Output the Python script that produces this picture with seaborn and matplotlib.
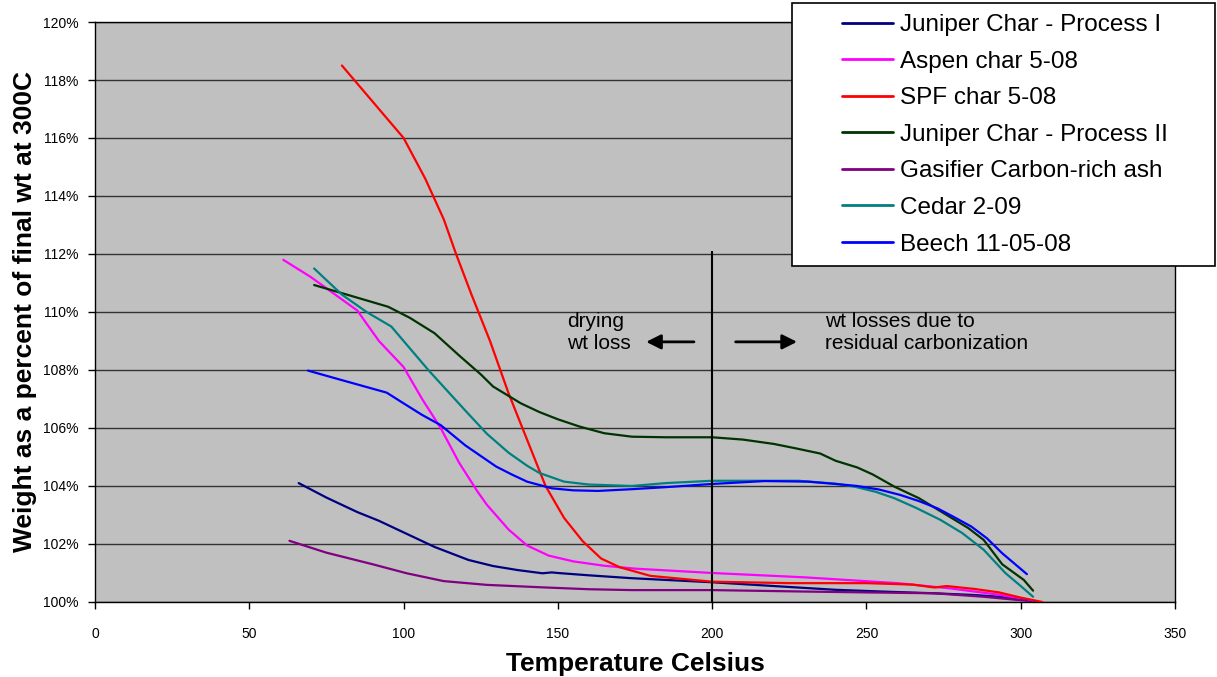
import matplotlib
matplotlib.use('Agg')
import matplotlib.pyplot as plt
import matplotlib.ticker as mticker
from matplotlib.patches import Rectangle
import pandas as pd
import seaborn as sns

# series values (temperature C, weight %)
juniper1_x = [66, 75, 85, 92, 100, 110, 121, 129, 137, 145, 148, 150, 160, 174, 200, 220, 240, 255, 272, 285, 293, 300, 305]
juniper1_y = [104.1, 103.6, 103.1, 102.8, 102.4, 101.9, 101.45, 101.24, 101.1, 100.99, 101.02, 101.0, 100.92, 100.82,
              100.68, 100.55, 100.42, 100.36, 100.3, 100.24, 100.18, 100.1, 100.0]

aspen_x = [61, 70, 85, 92, 100, 106, 112, 118, 124, 127, 134, 140, 147, 155, 165, 175, 200, 230, 260, 277, 293, 304]
aspen_y = [111.8, 111.2, 110.05, 109.0, 108.1, 107.0, 106.0, 104.8, 103.8, 103.35, 102.5, 101.95, 101.6, 101.4,
           101.25, 101.15, 101.0, 100.85, 100.65, 100.47, 100.25, 100.05]

spf_x = [80, 90, 100, 107, 113, 117, 122, 128, 134, 140, 146, 152, 158, 164, 170, 180, 190, 200, 225, 250, 265,
         272, 276, 285, 293, 300, 307]
spf_y = [118.5, 117.25, 116.0, 114.6, 113.2, 112.0, 110.6, 109.0, 107.2, 105.6, 104.0, 102.9, 102.1, 101.5, 101.2,
         100.9, 100.8, 100.7, 100.65, 100.65, 100.6, 100.5, 100.55, 100.45, 100.33, 100.15, 100.0]

juniper2_x = [71, 80, 88, 95, 102, 110, 118, 125, 129, 138, 144, 150, 157, 165, 174, 185, 200, 210, 220, 227, 235,
              240, 247, 252, 259, 267, 276, 283, 288, 294, 301, 304]
juniper2_y = [110.93, 110.65, 110.4, 110.18, 109.8, 109.27, 108.5, 107.85, 107.43, 106.85, 106.55, 106.3, 106.05,
              105.82, 105.7, 105.68, 105.68, 105.6, 105.45, 105.3, 105.12, 104.87, 104.64, 104.4, 103.98, 103.58,
              103.0, 102.55, 102.14, 101.3, 100.76, 100.39]

gasifier_x = [63, 75, 90, 101, 113, 127, 146, 160, 174, 200, 230, 250, 272, 288, 302]
gasifier_y = [102.11, 101.7, 101.3, 100.99, 100.72, 100.59, 100.5, 100.44, 100.41, 100.41, 100.36, 100.33, 100.3,
              100.18, 100.04]

cedar_x = [71, 80, 88, 96, 100, 108, 114, 120, 127, 134, 140, 144, 152, 160, 174, 185, 200, 228, 240, 246, 253,
           259, 266, 274, 281, 288, 295, 300, 304]
cedar_y = [111.5, 110.6, 110.0, 109.5, 109.0, 108.0, 107.3, 106.6, 105.8, 105.15, 104.7, 104.45, 104.15, 104.05,
           104.0, 104.1, 104.18, 104.18, 104.08, 103.98, 103.8, 103.58, 103.25, 102.83, 102.38, 101.8, 101.0,
           100.55, 100.18]

beech_x = [69, 80, 94.5, 100, 106, 112, 120, 130, 135, 140, 148, 155, 163, 174, 185, 200, 217, 231, 240, 247, 254,
           261, 267, 273, 278, 284, 289, 294, 302]
beech_y = [107.98, 107.65, 107.22, 106.85, 106.45, 106.1, 105.4, 104.67, 104.4, 104.15, 103.92, 103.85, 103.83,
           103.89, 103.96, 104.07, 104.17, 104.15, 104.07, 104.0, 103.88, 103.69, 103.48, 103.23, 102.95, 102.6,
           102.2, 101.68, 100.96]

series_names = ['Juniper Char - Process I', 'Aspen char 5-08', 'SPF char 5-08', 'Juniper Char - Process II',
                'Gasifier Carbon-rich ash', 'Cedar 2-09', 'Beech 11-05-08']
series_colors = ['#000080', '#FF00FF', '#FF0000', '#003300', '#800080', '#008080', '#0000FF']
series_data = [(juniper1_x, juniper1_y), (aspen_x, aspen_y), (spf_x, spf_y), (juniper2_x, juniper2_y),
               (gasifier_x, gasifier_y), (cedar_x, cedar_y), (beech_x, beech_y)]

x_ticks = [0, 50, 100, 150, 200, 250, 300, 350]
y_ticks = [100, 102, 104, 106, 108, 110, 112, 114, 116, 118, 120]
divider_x = 200
divider_top = 112.1

# long table for seaborn
frames = []
for name, (xs, ys) in zip(series_names, series_data):
    frames.append(pd.DataFrame({'temp': xs, 'weight': ys, 'sample': name}))
df = pd.concat(frames, ignore_index=True)

sns.set_style('white')
plt.rcParams['font.family'] = ['Liberation Sans', 'DejaVu Sans']
plt.rcParams['text.color'] = 'black'
plt.rcParams['axes.labelcolor'] = 'black'
plt.rcParams['xtick.color'] = 'black'
plt.rcParams['ytick.color'] = 'black'

fig = plt.figure(figsize=(12.17, 6.77), dpi=100)
ax = fig.add_axes([0.0781, 0.1108, 0.8874, 0.8567])
ax.set_facecolor('#C0C0C0')

sns.lineplot(data=df, x='temp', y='weight', hue='sample', hue_order=series_names,
             palette=dict(zip(series_names, series_colors)), sort=False, estimator=None,
             linewidth=1.6, ax=ax, zorder=3)

ax.set_xlim(0, 350)
ax.set_ylim(100, 120)
ax.set_xticks(x_ticks)
ax.set_yticks(y_ticks)
ax.yaxis.set_major_formatter(mticker.FuncFormatter(lambda v, p: f'{v:.0f}%'))
ax.tick_params(axis='both', direction='out', length=5, width=1, color='black', labelcolor='black',
               labelsize=10, bottom=True, left=True)
ax.tick_params(axis='x', pad=13)
ax.tick_params(axis='y', pad=7)
ax.yaxis.grid(True, color='#333333', linewidth=1.0, zorder=1)
ax.xaxis.grid(False)
ax.set_axisbelow(True)
for sp in ax.spines.values():
    sp.set_color('black')
    sp.set_linewidth(1.0)

ax.set_xlabel('Temperature Celsius', fontsize=19, fontweight='bold', labelpad=8, color='black')
ax.set_ylabel('Weight as a percent of final wt at 300C', fontsize=19, fontweight='bold', labelpad=4,
              color='black')

# divider and annotations
ax.vlines(divider_x, 100, divider_top, color='black', linewidth=1.5, zorder=4)
ax.text(153, 109.3, 'drying\nwt loss', fontsize=15, va='center', ha='left', linespacing=1.2)
ax.text(236.5, 109.3, 'wt losses due to\nresidual carbonization', fontsize=15, va='center', ha='left',
        linespacing=1.2)
ax.annotate('', xy=(177.7, 108.97), xytext=(195, 108.97),
            arrowprops=dict(arrowstyle='-|>', color='black', lw=2, mutation_scale=22))
ax.annotate('', xy=(228.4, 108.97), xytext=(206.7, 108.97),
            arrowprops=dict(arrowstyle='-|>', color='black', lw=2, mutation_scale=22))

# legend in a box at the top right of the figure
handles, labels = ax.get_legend_handles_labels()
ax.get_legend().remove()
fig.add_artist(Rectangle((792 / 1217, 1 - 266 / 677), 423 / 1217, 263 / 677, transform=fig.transFigure,
                         facecolor='white', edgecolor='black', linewidth=1.2, zorder=5))
leg = fig.legend(handles, labels, loc='upper left', bbox_to_anchor=(842 / 1217, 1 - 14 / 677),
                 frameon=False, fontsize=17.5, handlelength=2.1, handletextpad=0.3, labelspacing=0.6,
                 borderpad=0, borderaxespad=0)
leg.set_zorder(6)
for line in leg.get_lines():
    line.set_linewidth(2)

fig.savefig('out.png', dpi=100)
